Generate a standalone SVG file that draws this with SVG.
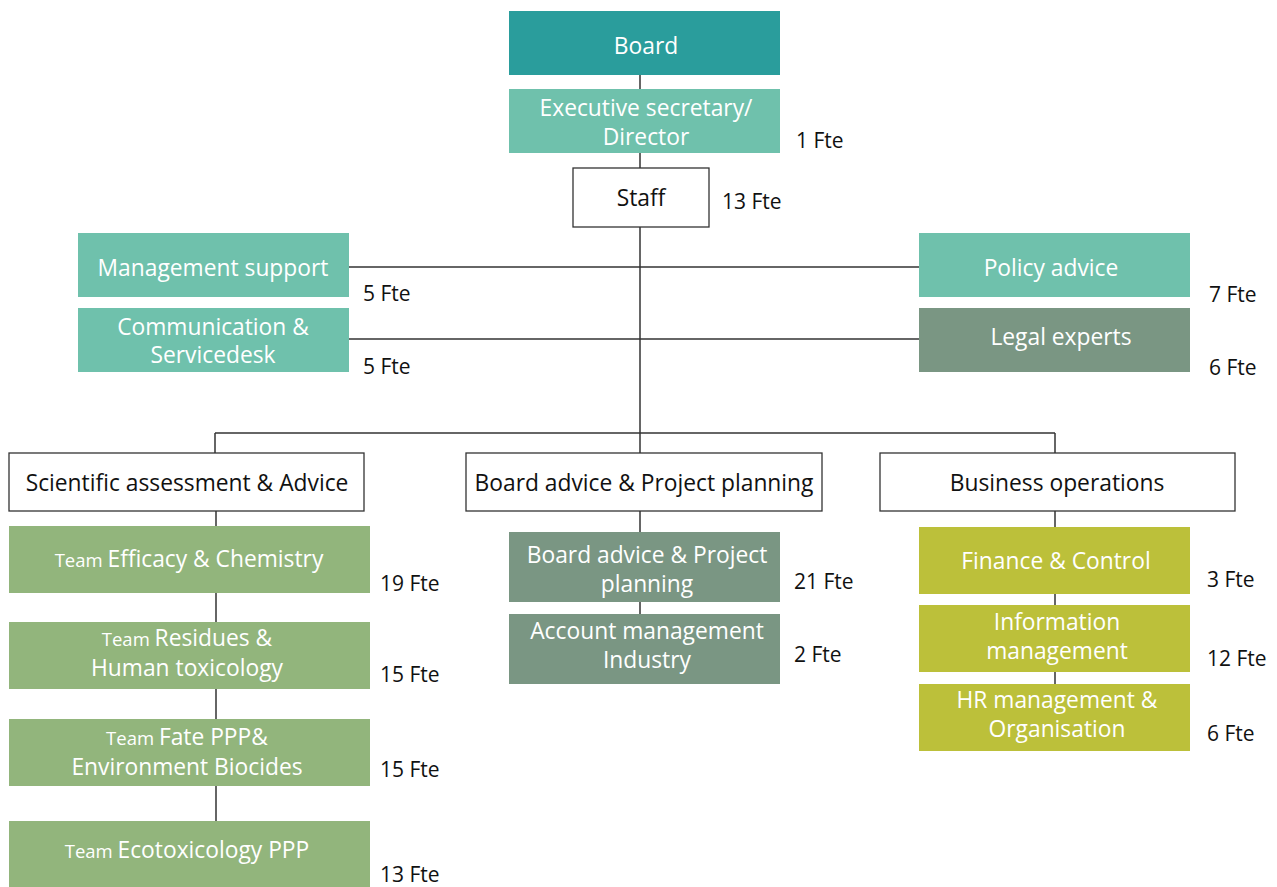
<svg xmlns="http://www.w3.org/2000/svg" width="1277" height="887" viewBox="0 0 1277 887">
<style>
text{font-family:"Open Sans","Noto Sans","Liberation Sans",sans-serif;font-size:22.8px}
.w{fill:#fff;text-anchor:middle}
.b{fill:#111;text-anchor:middle}
.f{fill:#111;font-size:21px}
.sm{font-size:18.5px}
.box{stroke:#333;stroke-width:1.3;fill:#fff}
.teal{fill:#2a9d9c}
.mint{fill:#6fc1ac}
.grey{fill:#7a9683}
.green{fill:#92b57c}
.lime{fill:#bcc03a}
.con line{stroke:#333;stroke-width:1.5}
</style>
<rect width="1277" height="887" fill="#fff"/>
<g class="con">
<line x1="640" y1="75" x2="640" y2="433"/>
<line x1="349" y1="267" x2="919" y2="267"/>
<line x1="349" y1="339" x2="919" y2="339"/>
<line x1="215" y1="433" x2="1055" y2="433"/>
<line x1="215" y1="433" x2="215" y2="453"/>
<line x1="640" y1="433" x2="640" y2="453"/>
<line x1="1055" y1="433" x2="1055" y2="453"/>
<line x1="216" y1="511" x2="216" y2="821"/>
<line x1="640" y1="511" x2="640" y2="614"/>
<line x1="1055" y1="511" x2="1055" y2="684"/>
</g>
<g id="board"><rect class="teal" x="509" y="11" width="271" height="64"/><text class="w" x="646" y="54">Board</text></g>
<g id="exec"><rect class="mint" x="509" y="89" width="271" height="64"/><text class="w" x="646" y="116">Executive secretary/</text><text class="w" x="646" y="145">Director</text><text class="f" x="796" y="148">1 Fte</text></g>
<g id="staff"><rect class="box" x="573" y="168" width="136" height="59"/><text class="b" x="641" y="206">Staff</text><text class="f" x="722" y="209">13 Fte</text></g>
<g id="mgmt"><rect class="mint" x="78" y="233" width="271" height="64"/><text class="w" x="213" y="276">Management support</text><text class="f" x="363" y="301">5 Fte</text></g>
<g id="comm"><rect class="mint" x="78" y="308" width="271" height="64"/><text class="w" x="213" y="335">Communication &amp;</text><text class="w" x="213" y="363">Servicedesk</text><text class="f" x="363" y="374">5 Fte</text></g>
<g id="policy"><rect class="mint" x="919" y="233" width="271" height="64"/><text class="w" x="1051" y="276">Policy advice</text><text class="f" x="1209" y="302">7 Fte</text></g>
<g id="legal"><rect class="grey" x="919" y="308" width="271" height="64"/><text class="w" x="1061" y="345">Legal experts</text><text class="f" x="1209" y="375">6 Fte</text></g>
<g id="sci"><rect class="box" x="9" y="453" width="355" height="58"/><text class="b" x="187" y="491">Scientific assessment &amp; Advice</text></g>
<g id="bap"><rect class="box" x="466" y="453" width="356" height="58"/><text class="b" x="644" y="491">Board advice &amp; Project planning</text></g>
<g id="bus"><rect class="box" x="880" y="453" width="355" height="58"/><text class="b" x="1057" y="491">Business operations</text></g>
<g id="t1"><rect class="green" x="9" y="526" width="361" height="67"/><text class="w" x="189" y="567"><tspan class="sm">Team </tspan>Efficacy &amp; Chemistry</text><text class="f" x="380" y="591">19 Fte</text></g>
<g id="t2"><rect class="green" x="9" y="622" width="361" height="67"/><text class="w" x="187" y="646"><tspan class="sm">Team </tspan>Residues &amp;</text><text class="w" x="187" y="676">Human toxicology</text><text class="f" x="380" y="682">15 Fte</text></g>
<g id="t3"><rect class="green" x="9" y="719" width="361" height="67"/><text class="w" x="187" y="745"><tspan class="sm">Team </tspan>Fate PPP&amp;</text><text class="w" x="187" y="775">Environment Biocides</text><text class="f" x="380" y="777">15 Fte</text></g>
<g id="t4"><rect class="green" x="9" y="821" width="361" height="67"/><text class="w" x="187" y="858"><tspan class="sm">Team </tspan>Ecotoxicology PPP</text><text class="f" x="380" y="882">13 Fte</text></g>
<g id="bap2"><rect class="grey" x="509" y="532" width="271" height="70"/><text class="w" x="647" y="563">Board advice &amp; Project</text><text class="w" x="647" y="592">planning</text><text class="f" x="794" y="589">21 Fte</text></g>
<g id="acct"><rect class="grey" x="509" y="614" width="271" height="70"/><text class="w" x="647" y="639">Account management</text><text class="w" x="647" y="668">Industry</text><text class="f" x="794" y="662">2 Fte</text></g>
<g id="fin"><rect class="lime" x="919" y="527" width="271" height="67"/><text class="w" x="1056" y="569">Finance &amp; Control</text><text class="f" x="1207" y="587">3 Fte</text></g>
<g id="info"><rect class="lime" x="919" y="605" width="271" height="67"/><text class="w" x="1057" y="630">Information</text><text class="w" x="1057" y="659">management</text><text class="f" x="1207" y="666">12 Fte</text></g>
<g id="hr"><rect class="lime" x="919" y="684" width="271" height="67"/><text class="w" x="1057" y="708">HR management &amp;</text><text class="w" x="1057" y="737">Organisation</text><text class="f" x="1207" y="741">6 Fte</text></g>
</svg>
